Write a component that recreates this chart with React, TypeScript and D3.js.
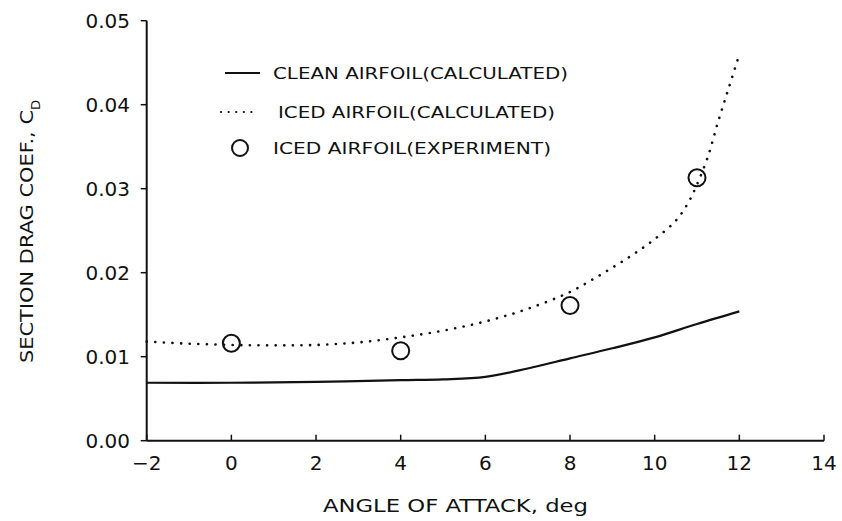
import React, { useEffect, useRef } from 'react';
import * as d3 from 'd3';

// angle of attack (deg) and section drag coefficient
const cleanAlpha = [-2, 0, 2, 4, 5, 6, 7, 8, 9, 10, 11, 12];
const cleanCd = [0.0069, 0.0069, 0.0070, 0.0072, 0.0073, 0.0076, 0.0086, 0.0098, 0.0110, 0.0123, 0.0139, 0.0154];

const icedAlpha = [-2, -1, 0, 1, 2, 3, 4, 5, 6, 7, 8, 8.5, 9, 9.5, 10, 10.5, 10.8, 11, 11.25, 11.5, 11.75, 12];
const icedCd = [0.0118, 0.01155, 0.0114, 0.01135, 0.0114, 0.0117, 0.0123, 0.0131, 0.0142, 0.0157, 0.0177, 0.0191, 0.0206, 0.0222, 0.0240, 0.0262, 0.0284, 0.0305, 0.0337, 0.0380, 0.0420, 0.0460];

const expAlpha = [0, 4, 8, 11];
const expCd = [0.0116, 0.0107, 0.0161, 0.0313];

const xTicks = [-2, 0, 2, 4, 6, 8, 10, 12, 14];
const yTicks = [0, 0.01, 0.02, 0.03, 0.04, 0.05];

const legendLabels = ['CLEAN AIRFOIL(CALCULATED)', 'ICED AIRFOIL(CALCULATED)', 'ICED AIRFOIL(EXPERIMENT)'];

const FONT = '"DejaVu Sans", sans-serif';

const DragChart = () => {
  const svgRef = useRef<SVGSVGElement>(null);

  useEffect(() => {
    if (!svgRef.current) return;
    const svg = d3.select(svgRef.current);
    svg.selectAll('*').remove();

    const x = d3.scaleLinear().domain([-2, 14]).range([146.7, 824]);
    const y = d3.scaleLinear().domain([0, 0.05]).range([440.7, 20.7]);

    const ink = '#111';

    // axes
    svg.append('line')
      .attr('x1', x(-2)).attr('x2', x(14))
      .attr('y1', y(0)).attr('y2', y(0))
      .attr('stroke', ink).attr('stroke-width', 2);
    svg.append('line')
      .attr('x1', x(-2)).attr('x2', x(-2))
      .attr('y1', y(0)).attr('y2', y(0.05))
      .attr('stroke', ink).attr('stroke-width', 2);

    // x ticks point up into the plot
    svg.selectAll('.xt')
      .data(xTicks)
      .enter()
      .append('line')
      .attr('x1', d => x(d)).attr('x2', d => x(d))
      .attr('y1', y(0)).attr('y2', y(0) - 6)
      .attr('stroke', ink).attr('stroke-width', 1.5);

    svg.selectAll('.xl')
      .data(xTicks)
      .enter()
      .append('text')
      .attr('x', d => x(d))
      .attr('y', 470)
      .attr('text-anchor', 'middle')
      .attr('font-family', FONT)
      .attr('font-size', 20)
      .attr('fill', ink)
      .text(d => (d < 0 ? `\u2212${-d}` : `${d}`));

    // y ticks point outward
    svg.selectAll('.yt')
      .data(yTicks)
      .enter()
      .append('line')
      .attr('x1', x(-2) - 6).attr('x2', x(-2))
      .attr('y1', d => y(d)).attr('y2', d => y(d))
      .attr('stroke', ink).attr('stroke-width', 1.5);

    svg.selectAll('.yl')
      .data(yTicks)
      .enter()
      .append('text')
      .attr('x', 130)
      .attr('y', d => y(d) + 7)
      .attr('text-anchor', 'end')
      .attr('font-family', FONT)
      .attr('font-size', 20)
      .attr('fill', ink)
      .text(d => d.toFixed(2));

    // axis titles
    svg.append('text')
      .attr('x', 323)
      .attr('y', 512)
      .attr('font-family', FONT)
      .attr('font-size', 18)
      .attr('fill', ink)
      .attr('textLength', 265)
      .attr('lengthAdjust', 'spacingAndGlyphs')
      .text('ANGLE OF ATTACK, deg');

    const yTitle = svg.append('text')
      .attr('transform', 'translate(33,363) rotate(-90)')
      .attr('font-family', FONT)
      .attr('font-size', 18)
      .attr('fill', ink);
    yTitle.append('tspan')
      .attr('textLength', 253)
      .attr('lengthAdjust', 'spacingAndGlyphs')
      .text('SECTION DRAG COEF., C');
    yTitle.append('tspan')
      .attr('dy', 7)
      .attr('font-size', 13)
      .text('D');

    // curves
    const line = d3.line<[number, number]>()
      .x(d => x(d[0]))
      .y(d => y(d[1]))
      .curve(d3.curveCatmullRom.alpha(0.5));

    svg.append('path')
      .attr('d', line(cleanAlpha.map((a, i) => [a, cleanCd[i]] as [number, number])))
      .attr('fill', 'none')
      .attr('stroke', ink)
      .attr('stroke-width', 2.2);

    svg.append('path')
      .attr('d', line(icedAlpha.map((a, i) => [a, icedCd[i]] as [number, number])))
      .attr('fill', 'none')
      .attr('stroke', ink)
      .attr('stroke-width', 2.6)
      .attr('stroke-linecap', 'round')
      .attr('stroke-dasharray', '0.1 8.5');

    svg.selectAll('.exp')
      .data(expAlpha)
      .enter()
      .append('circle')
      .attr('cx', d => x(d))
      .attr('cy', (d, i) => y(expCd[i]))
      .attr('r', 8.5)
      .attr('fill', 'none')
      .attr('stroke', ink)
      .attr('stroke-width', 2);

    // legend
    svg.append('line')
      .attr('x1', 225).attr('x2', 260)
      .attr('y1', 73).attr('y2', 73)
      .attr('stroke', ink).attr('stroke-width', 1.8);
    svg.append('line')
      .attr('x1', 221).attr('x2', 254)
      .attr('y1', 112).attr('y2', 112)
      .attr('stroke', ink).attr('stroke-width', 2.2)
      .attr('stroke-linecap', 'round')
      .attr('stroke-dasharray', '0.1 7.5');
    svg.append('circle')
      .attr('cx', 240).attr('cy', 148)
      .attr('r', 8)
      .attr('fill', 'none')
      .attr('stroke', ink).attr('stroke-width', 2);

    const legendX = [273, 278, 273];
    const legendY = [79, 118, 154];
    const legendW = [295, 277, 278];
    svg.selectAll('.lg')
      .data(legendLabels)
      .enter()
      .append('text')
      .attr('x', (d, i) => legendX[i])
      .attr('y', (d, i) => legendY[i])
      .attr('font-family', FONT)
      .attr('font-size', 16)
      .attr('fill', ink)
      .attr('textLength', (d, i) => legendW[i])
      .attr('lengthAdjust', 'spacingAndGlyphs')
      .text(d => d);
  }, []);

  return (
    <svg
      ref={svgRef}
      width={842}
      height={521}
      viewBox="0 0 842 521"
      style={{ position: 'absolute', left: 0, top: 0, background: '#fff' }}
    />
  );
};

export default function App() {
  return <DragChart />;
}
